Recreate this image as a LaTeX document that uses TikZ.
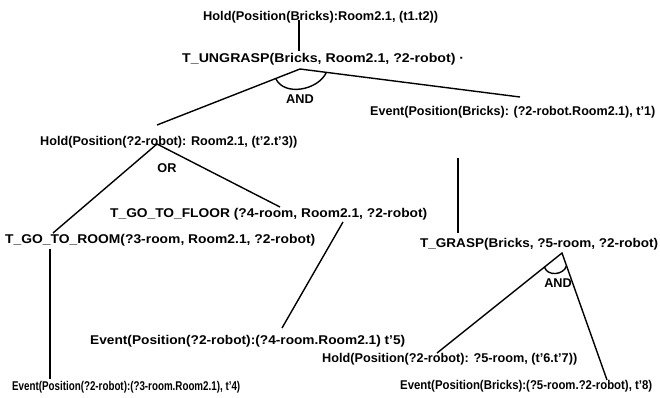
\documentclass[tikz,border=0pt]{standalone}
\usepackage{fontspec}
\setmainfont{Liberation Sans}
\usetikzlibrary{calc}
% set a label to a given printed width, keeping its height
\newcommand\fitw[2]{\resizebox{#1pt}{\height}{#2}}
\begin{document}
\begin{tikzpicture}[x=1pt,y=1pt,
  lbl/.style={font=\fontsize{12.7}{14}\selectfont\bfseries, inner sep=0pt, anchor=west},
  opl/.style={font=\fontsize{12.7}{14}\selectfont\bfseries, inner sep=0pt},
  link/.style={line width=1.4pt}]
\useasboundingbox (0,0) rectangle (660,-397);

% goal and task nodes
\node[lbl] (h1) at (203,-17) {\fitw{235}{Hold(Position(Bricks):Room2.1, (t1.t2))}};
\node[lbl] (u)  at (182,-59) {\fitw{282}{T\_UNGRASP(Bricks, Room2.1, ?2-robot) ·}};
\node[lbl] (h2) at (40,-142) {\fitw{257}{Hold(Position(?2-robot): Room2.1, (t'2.t'3))}};
\node[lbl] (e1) at (370,-112) {\fitw{285}{Event(Position(Bricks): (?2-robot.Room2.1), t'1)}};
\node[lbl] (f)  at (110,-214) {\fitw{317}{T\_GO\_TO\_FLOOR (?4-room, Room2.1, ?2-robot)}};
\node[lbl] (r)  at (5,-240) {\fitw{310}{T\_GO\_TO\_ROOM(?3-room, Room2.1, ?2-robot)}};
\node[lbl] (g)  at (420,-244) {\fitw{238}{T\_GRASP(Bricks, ?5-room, ?2-robot)}};
\node[lbl] (e4) at (90,-341) {\fitw{315}{Event(Position(?2-robot):(?4-room.Room2.1) t'5)}};
\node[lbl] (h3) at (322,-359) {\fitw{255}{Hold(Position(?2-robot): ?5-room, (t'6.t'7))}};
\node[lbl] (e3) at (12,-387) {\fitw{228}{Event(Position(?2-robot):(?3-room.Room2.1), t'4)}};
\node[lbl] (e5) at (400,-386) {\fitw{252}{Event(Position(Bricks):(?5-room.?2-robot), t'8)}};

% operator labels
\node[opl] (and1) at (300,-99) {AND};
\node[opl] (or1)  at (167,-168) {OR};
\node[opl] (and2) at (558,-283) {AND};

% attachment points of the connectors
\coordinate (h1b) at (299,-20);
\coordinate (ut)  at (299,-51);
\coordinate (ub)  at (300,-69);
\coordinate (h2t) at (157,-125);
\coordinate (e1t) at (520,-97);
\coordinate (h2b) at (157,-144);
\coordinate (rt)  at (53,-233);
\coordinate (ft)  at (280,-207);
\coordinate (fb)  at (343,-222);
\coordinate (e4t) at (282,-328);
\coordinate (rb)  at (50,-249);
\coordinate (e3t) at (50,-379);
\coordinate (e1b) at (458,-158);
\coordinate (gt)  at (458,-233);
\coordinate (gb)  at (562,-253);
\coordinate (h3t) at (437,-353);
\coordinate (e5t) at (607,-380);

% connectors
\draw[link] (h1b) -- (ut);
\draw[link] (h2t) -- (ub) -- (e1t);
\draw[link] (rt) -- (h2b) -- (ft);
\draw[link] (fb) -- (e4t);
\draw[link] (rb) -- (e3t);
\draw[link] (e1b) -- (gt);
\draw[link] (h3t) -- (gb) -- (e5t);

% AND arcs joining the branches
\draw[link] ($(ub)!0.17!(h2t)$) to[out=-65,in=-115] ($(ub)!0.12!(e1t)$);
\draw[link] ($(gb)!0.14!(h3t)$) to[out=-75,in=-105,looseness=1.15] ($(gb)!0.10!(e5t)$);
\end{tikzpicture}
\end{document}
